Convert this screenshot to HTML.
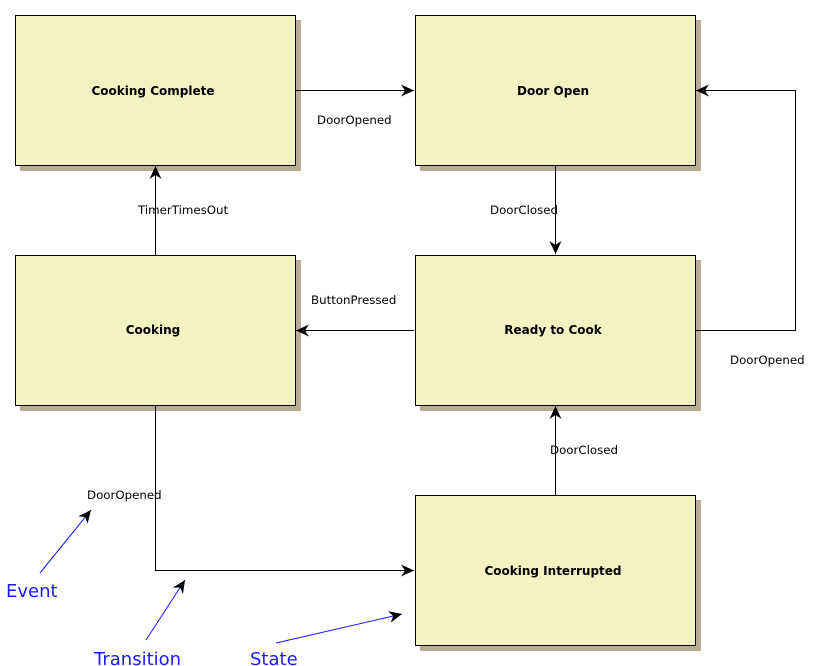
<!DOCTYPE html>
<html><head><meta charset="utf-8"><style>
html,body{margin:0;padding:0;background:#fff;width:823px;height:666px;overflow:hidden}
svg{display:block}
.t{font-family:"DejaVu Sans","Liberation Sans",sans-serif;font-size:12px;font-weight:bold;fill:#000}
.l{font-family:"DejaVu Sans","Liberation Sans",sans-serif;font-size:11.8px;fill:#000}
.b{font-family:"DejaVu Sans","Liberation Sans",sans-serif;font-size:18px;fill:#1a1aff}
</style></head><body>
<svg width="823" height="666" viewBox="0 0 823 666">
<defs>
<marker id="a" markerWidth="14" markerHeight="12" refX="13" refY="6" orient="auto" markerUnits="userSpaceOnUse">
<path d="M0,0 L13,6 L0,12 L4,6 Z" fill="#000"/></marker>
</defs>
<g fill="#b8ab94">
<rect x="20" y="20" width="281" height="151"/>
<rect x="420" y="20" width="281" height="151"/>
<rect x="20" y="260" width="281" height="151"/>
<rect x="420" y="260" width="281" height="151"/>
<rect x="420" y="500" width="281" height="151"/>
</g>
<g fill="#f4f1c2" stroke="#000" stroke-width="1">
<rect x="15.5" y="15.5" width="280" height="150"/>
<rect x="415.5" y="15.5" width="280" height="150"/>
<rect x="15.5" y="255.5" width="280" height="150"/>
<rect x="415.5" y="255.5" width="280" height="150"/>
<rect x="415.5" y="495.5" width="280" height="150"/>
</g>
<g text-anchor="middle">
<text class="t" x="153" y="95">Cooking Complete</text>
<text class="t" x="553" y="95">Door Open</text>
<text class="t" x="153" y="334">Cooking</text>
<text class="t" x="553" y="334">Ready to Cook</text>
<text class="t" x="553" y="575">Cooking Interrupted</text>
</g>
<g stroke="#000" stroke-width="1" fill="none" marker-end="url(#a)">
<path d="M296,90.5 H414"/>
<path d="M555.5,166 V254"/>
<path d="M414,330.5 H296"/>
<path d="M155.5,255 V166"/>
<path d="M696,330.5 H795.5 V90.5 H696"/>
<path d="M555.5,495 V406"/>
<path d="M155.5,406 V570.5 H414"/>
</g>
<g class="l">
<text class="l" x="317" y="124">DoorOpened</text>
<text class="l" x="490" y="214">DoorClosed</text>
<text class="l" x="311" y="304">ButtonPressed</text>
<text class="l" x="138" y="214">TimerTimesOut</text>
<text class="l" x="730" y="364">DoorOpened</text>
<text class="l" x="550" y="454">DoorClosed</text>
<text class="l" x="87" y="499">DoorOpened</text>
</g>
<g stroke="#1a1aff" stroke-width="1" fill="none" marker-end="url(#a)">
<path d="M40,573 L91,510"/>
<path d="M146,640 L185,580"/>
<path d="M276,643 L402,614"/>
</g>
<text class="b" x="6" y="597">Event</text>
<text class="b" x="94" y="665">Transition</text>
<text class="b" x="250" y="665">State</text>
</svg>
</body></html>
